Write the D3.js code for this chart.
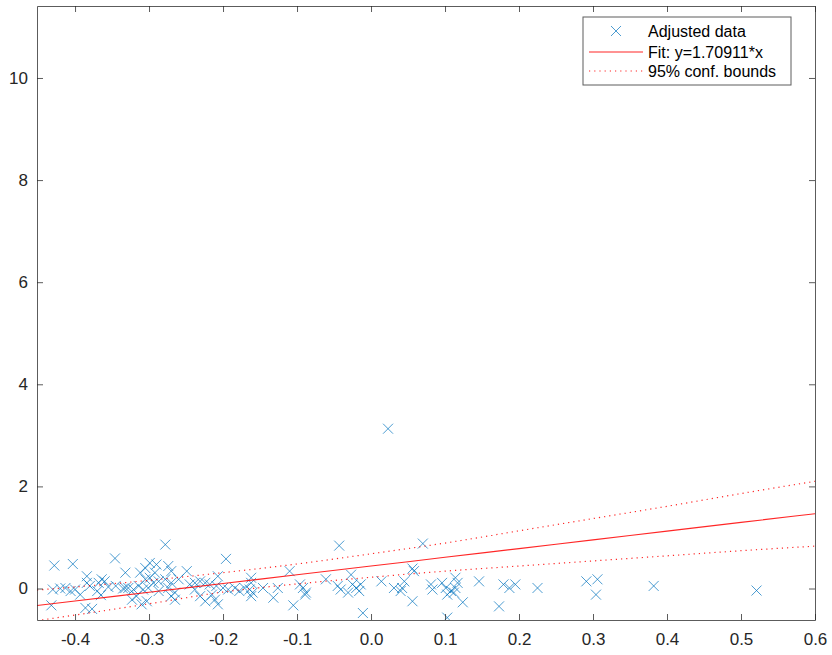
<!DOCTYPE html>
<html>
<head>
<meta charset="utf-8">
<script src="https://cdn.jsdelivr.net/npm/d3@7"></script>
<style>
  html, body { margin: 0; padding: 0; background: #fff; }
  svg { display: block; font-family: "Liberation Sans", Arial, Helvetica, sans-serif; }
</style>
</head>
<body>
<svg id="chart" width="832" height="655"></svg>
<script>
// ---- data ----
const ptX = [
  -0.428,-0.403,-0.346,-0.432,-0.43,-0.42,-0.413,-0.406,-0.40,-0.393,-0.386,-0.377,-0.384,-0.384,-0.38,-0.37,-0.368,-0.364,-0.36,-0.355,-0.365,-0.345,-0.335,-0.332,-0.332,
  -0.278,-0.312,-0.305,-0.299,-0.292,-0.274,-0.27,-0.249,-0.305,-0.299,-0.294,-0.287,-0.278,-0.27,-0.26,-0.245,-0.238,-0.231,-0.224,-0.218,-0.328,-0.321,-0.314,-0.308,-0.301,-0.287,-0.274,-0.265,-0.323,-0.317,-0.31,-0.303,-0.27,-0.265,-0.231,-0.224,-0.215,-0.238,-0.29,
  -0.196,-0.207,-0.209,-0.2,-0.193,-0.184,-0.178,-0.171,-0.162,-0.162,-0.164,-0.162,-0.16,-0.146,-0.132,-0.126,-0.11,-0.105,-0.096,-0.211,-0.207,-0.089,
  -0.043,-0.092,-0.088,-0.061,-0.045,-0.041,-0.031,-0.027,-0.025,-0.02,-0.014,-0.016,-0.011,0.014,
  0.023,0.07,
  0.056,0.058,0.031,0.042,0.045,0.04,0.056,0.081,0.083,0.096,0.101,0.103,0.108,0.114,0.117,0.114,0.112,0.124,0.103,0.146,
  0.179,0.187,0.195,0.173,0.225,0.291,0.306,0.304,0.382,0.521
];
const ptY = [
  0.45,0.48,0.59,-0.33,-0.02,0.0,0.01,-0.05,-0.02,-0.12,-0.38,-0.40,0.24,0.11,0.05,-0.05,0.11,0.18,0.14,0.03,-0.13,0.05,0.0,0.01,0.31,
  0.86,0.31,0.40,0.50,0.31,0.44,0.34,0.34,0.18,0.21,0.11,0.14,0.18,0.11,0.18,0.08,0.11,0.14,0.11,0.08,0.01,-0.02,0.05,-0.02,0.01,-0.05,0.01,-0.08,-0.22,-0.15,-0.31,-0.25,-0.15,-0.22,-0.15,-0.25,-0.12,-0.02,0.47,
  0.58,0.24,0.05,0.01,-0.02,0.01,-0.05,0.01,0.21,0.11,-0.02,-0.15,-0.08,0.01,-0.18,0.01,0.34,-0.33,0.08,-0.22,-0.31,-0.12,
  0.84,0.01,-0.08,0.18,0.05,-0.02,-0.08,0.27,0.08,0.01,0.08,-0.05,-0.48,0.14,
  3.13,0.88,
  0.39,0.34,0.01,0.01,0.14,-0.05,-0.25,0.08,-0.02,0.11,0.01,-0.12,-0.05,0.21,0.11,0.01,-0.08,-0.27,-0.57,0.14,
  0.08,0.01,0.08,-0.35,0.01,0.14,0.18,-0.12,0.05,-0.04
];
const curveX = [-0.4514,-0.4,-0.3,-0.2,-0.1,0,0.1,0.2,0.3,0.4,0.5,0.6];
const fitY   = [-0.332,-0.244,-0.073,0.098,0.269,0.44,0.611,0.782,0.953,1.124,1.295,1.465];
const upperY = [-0.03,0.03,0.16,0.31,0.48,0.68,0.89,1.13,1.37,1.61,1.86,2.10];
const lowerY = [-0.63,-0.52,-0.30,-0.07,0.09,0.22,0.34,0.44,0.54,0.64,0.74,0.83];
const xTicks = [-0.4,-0.3,-0.2,-0.1,0,0.1,0.2,0.3,0.4,0.5,0.6];
const yTicks = [0,2,4,6,8,10];
const legendLabels = ["Adjusted data","Fit: y=1.70911*x","95% conf. bounds"];

// ---- layout ----
const L = 37, R = 815, T = 6, B = 620;
const svg = d3.select("#chart");
const x = d3.scaleLinear().domain([-0.4514, 0.6]).range([L, R]);
const y = d3.scaleLinear().domain([-0.617, 11.41]).range([B, T]);

const axisColor = "#262626";
const blue = "#0072BD";
const red = "#FF0000";

svg.append("rect").attr("x",0).attr("y",0).attr("width",832).attr("height",655).attr("fill","#fff");

svg.append("clipPath").attr("id","clip").append("rect")
  .attr("x",L).attr("y",T).attr("width",R-L).attr("height",B-T);

const plot = svg.append("g").attr("clip-path","url(#clip)");

// points (x markers)
const s = 5;
const pts = d3.range(ptX.length).map(i => [ptX[i], ptY[i]]);
plot.append("g").selectAll("path").data(pts).join("path")
  .attr("d", d => {
    const cx = x(d[0]), cy = y(d[1]);
    return `M${cx-s},${cy-s}L${cx+s},${cy+s}M${cx-s},${cy+s}L${cx+s},${cy-s}`;
  })
  .attr("fill","none").attr("stroke",blue).attr("stroke-width",1).attr("stroke-opacity",0.7);

const line = (ys) => d3.line().x((d,i)=>x(curveX[i])).y(d=>y(d)).curve(d3.curveMonotoneX)(ys);
plot.append("path").attr("d", line(fitY)).attr("fill","none").attr("stroke",red).attr("stroke-width",1.1).attr("stroke-opacity",0.85);
plot.append("path").attr("d", line(upperY)).attr("fill","none").attr("stroke",red).attr("stroke-width",1.2).attr("stroke-opacity",0.85).attr("stroke-dasharray","1.2,4");
plot.append("path").attr("d", line(lowerY)).attr("fill","none").attr("stroke",red).attr("stroke-width",1.2).attr("stroke-opacity",0.85).attr("stroke-dasharray","1.2,4");

// axes
const tickLen = 6;
const xAxB = d3.axisBottom(x).tickValues(xTicks).tickSizeInner(-tickLen).tickSizeOuter(0).tickPadding(13).tickFormat(d3.format(".1f"));
const xAxT = d3.axisTop(x).tickValues(xTicks).tickSizeInner(-tickLen).tickSizeOuter(0).tickFormat("");
const yAxL = d3.axisLeft(y).tickValues(yTicks).tickSizeInner(-tickLen).tickSizeOuter(0).tickPadding(9).tickFormat(d3.format("d"));
const yAxR = d3.axisRight(y).tickValues(yTicks).tickSizeInner(-tickLen).tickSizeOuter(0).tickFormat("");

function style(g){
  g.select(".domain").attr("stroke",axisColor).attr("stroke-width",1).attr("stroke-opacity",0.75);
  g.selectAll(".tick line").attr("stroke",axisColor).attr("stroke-width",1).attr("stroke-opacity",0.75);
  g.selectAll(".tick text").attr("fill",axisColor).attr("font-size",17).attr("font-family","'Liberation Sans', Arial, Helvetica, sans-serif");
}
svg.append("g").attr("transform",`translate(0,${B})`).call(xAxB).call(style);
svg.append("g").attr("transform",`translate(0,${T})`).call(xAxT).call(style);
svg.append("g").attr("transform",`translate(${L},0)`).call(yAxL).call(style);
svg.append("g").attr("transform",`translate(${R},0)`).call(yAxR).call(style);
svg.selectAll(".tick text").text(function(){ return d3.select(this).text().replace("\u2212","-"); });

// legend
const lg = svg.append("g");
const lx = 583, ly = 17, lw = 208, lh = 68;
lg.append("rect").attr("x",lx).attr("y",ly).attr("width",lw).attr("height",lh)
  .attr("fill","#fff").attr("stroke",axisColor).attr("stroke-opacity",0.75).attr("stroke-width",1);
const rowY = [31, 52, 71];
lg.append("path").attr("d",`M${616-s},${rowY[0]-s}L${616+s},${rowY[0]+s}M${616-s},${rowY[0]+s}L${616+s},${rowY[0]-s}`)
  .attr("stroke",blue).attr("stroke-width",1).attr("stroke-opacity",0.7).attr("fill","none");
lg.append("line").attr("x1",589).attr("x2",643).attr("y1",rowY[1]).attr("y2",rowY[1]).attr("stroke",red).attr("stroke-opacity",0.85).attr("stroke-width",1.1);
lg.append("line").attr("x1",589).attr("x2",643).attr("y1",rowY[2]).attr("y2",rowY[2]).attr("stroke",red).attr("stroke-opacity",0.85).attr("stroke-width",1.2).attr("stroke-dasharray","1.2,4");
lg.selectAll("text.lab").data(legendLabels).join("text").attr("class","lab")
  .attr("x",648).attr("y",(d,i)=>rowY[i]).attr("dy","0.36em")
  .attr("font-size",16).attr("fill","#000").text(d=>d);
</script>
</body>
</html>
